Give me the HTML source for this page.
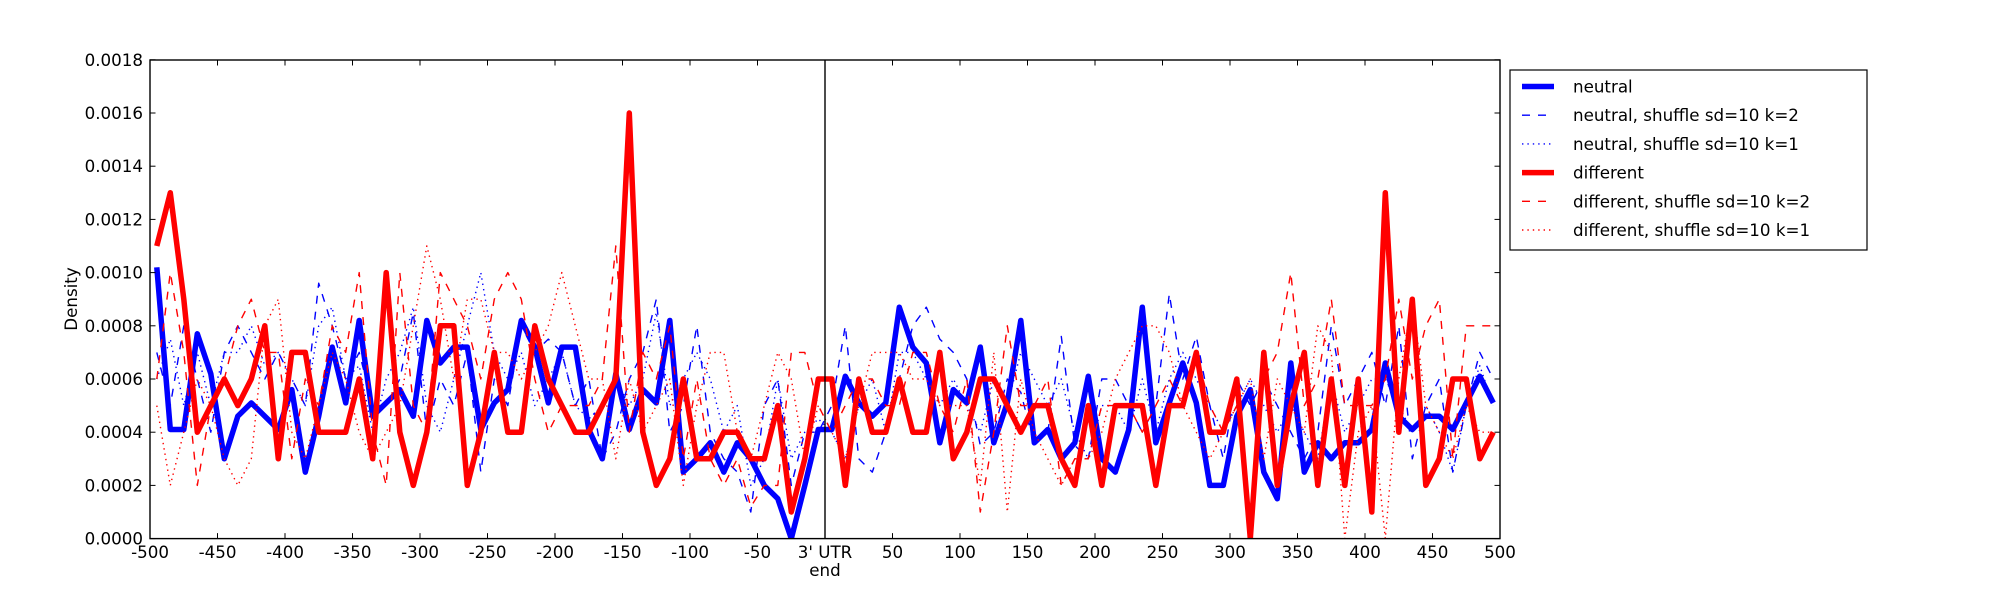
<!DOCTYPE html>
<html><head><meta charset="utf-8"><style>
html,body{margin:0;padding:0;background:#fff;}
svg{display:block;font-family:"DejaVu Sans","Liberation Sans",sans-serif;}
</style></head><body>
<svg id="s" width="2000" height="600" xmlns="http://www.w3.org/2000/svg">
<rect width="2000" height="600" fill="#fff"/>
<g id="plot"></g>
</svg>
<script>
var NS="http://www.w3.org/2000/svg";
var g=document.getElementById("plot");
function el(t,a,txt){var e=document.createElementNS(NS,t);for(var k in a)e.setAttribute(k,a[k]);if(txt!==undefined)e.textContent=txt;g.appendChild(e);return e;}
var L=150,R=1500,T=60,B=538.6;
function X(v){return 825+v*1.35;}
function Y(u){return B-u*26.6;}
var xs=[];for(var i=0;i<100;i++)xs.push(-495+10*i);
var neutral=[10.2,4.1,4.1,7.7,6.2,3.0,4.6,5.1,4.6,4.1,5.6,2.5,4.6,7.2,5.1,8.2,4.6,5.1,5.6,4.6,8.2,6.6,7.2,7.2,4.1,5.1,5.6,8.2,7.2,5.1,7.2,7.2,4.1,3.0,6.2,4.1,5.6,5.1,8.2,2.5,3.0,3.6,2.5,3.6,3.0,2.0,1.5,0,2.0,4.1,
4.1,6.1,5.1,4.6,5.1,8.7,7.2,6.6,3.6,5.6,5.1,7.2,3.6,5.1,8.2,3.6,4.1,3.0,3.6,6.1,3.0,2.5,4.1,8.7,3.6,5.1,6.6,5.1,2.0,2.0,4.6,5.6,2.5,1.5,6.6,2.5,3.6,3.0,3.6,3.6,4.1,6.6,4.6,4.1,4.6,4.6,4.1,5.1,6.1,5.1];
var diff=[11,13,9,4,5,6,5,6,8,3,7,7,4,4,4,6,3,10,4,2,4,8,8,2,4,7,4,4,8,6,5,4,4,5,6,16,4,2,3,6,3,3,4,4,3,3,5,1,3,6,
6,2,6,4,4,6,4,4,7,3,4,6,6,5,4,5,5,3,2,5,2,5,5,5,2,5,5,7,4,4,6,
0,7,2,5,7,2,6,2,6,1,13,4,9,2,3,6,6,3,4];
var n2=[7,5,8,6,4,7,8,7,6,7,6,5,9.6,8,6,7,5,5,6,8.5,4,6,5,7,2.5,6,5,8,7,7.5,7,5,6,3,4,6,7,9,4,5,8,4,3,2.5,1,5,6,2,4,4,
5,8,3,2.5,4,6,8,8.7,7.5,7,6,3.5,4,6,5.5,3.5,4,7.6,3.5,3,6,6,5,4,5,9.2,6,7.6,5,3,6,5,6,5,4,3,4,8,5,6,7,5,8,3,5,6,2.5,5,7,6];
var n1=[6,7.5,5,7,5,7,7,8,6.5,7,6,5,8,8.7,6,6.5,4,6,7,8.7,5,4,6,8,10,7,6,7,5,6,7,5,4.5,5,6,5,6,8.5,5,6,7,6,4,5,2,3,6,3,4,4.5,
4,3,5,6,4,7,7,6,5,6,5,4,6,5,7,6,5,6,4,3,5,5,4,6,4,6,7,6,5,4,5,6,5,4,5,4,3,6,4,5,6,6,5,4,5,4,2.5,5,6.5,5];
var d2=[6,10,7,2,5,6,8,9,7,7,3,6,5,8,7,10,4,2,10,5,4,10,9,8,6,9,10,9,6,4,5,5,5,6,11,4,7,6,8,3,6,3,2,3,1.2,2,2,7,7,5,
4,5,6,6,5,5,7,7,5,4,6,1,4,8,5,5,6,2,3,3,5,5,5,4,5,6,5,7,5,4,5,0,6,7,10,5,6,9,5,5,5,6,9,6,8,9,3,8,8,8];
var d1=[5,2,4,6,5,3,2,3,8,9,4,3,5,7,6,4,3,4,5,8,11,9,6,9,9,7,7,6,7,8,10,8,6,6,3,6,4,5,6,2,5,7,7,4,3,5,7,6,3,5,
4,3,5,7,7,7,6,6,5,5,5,2,7,1,6,4,3,2,3,3,4,6,7,8,8,7,5,4,3,4,5,6,3,6,5,4,8,7,0,4,5,0,6,9,5,4,3,5,4,4];
function pts(a){return a.map(function(u,i){return X(xs[i]).toFixed(1)+","+Y(u).toFixed(1);}).join(" ");}
var defs=el("defs",{});
var cp=document.createElementNS(NS,"clipPath");cp.setAttribute("id","c");
var cr=document.createElementNS(NS,"rect");cr.setAttribute("x",L);cr.setAttribute("y",T);cr.setAttribute("width",R-L);cr.setAttribute("height",B-T);
cp.appendChild(cr);defs.appendChild(cp);
var pg=el("g",{"clip-path":"url(#c)"});
function line(a,c,w,da){var p=document.createElementNS(NS,"polyline");p.setAttribute("points",pts(a));p.setAttribute("fill","none");p.setAttribute("stroke",c);p.setAttribute("stroke-width",w);p.setAttribute("stroke-linejoin","round");if(da)p.setAttribute("stroke-dasharray",da);pg.appendChild(p);}
line(neutral,"#0000ff",5.5);
line(n2,"#0000ff",1.4,"8,8");
line(n1,"#0000ff",1.4,"1.4,4");
line(diff,"#ff0000",5.5);
line(d2,"#ff0000",1.4,"8,8");
line(d1,"#ff0000",1.4,"1.4,4");
el("line",{x1:825,y1:T,x2:825,y2:B,stroke:"#000","stroke-width":1.4});
el("rect",{x:L,y:T,width:R-L,height:B-T,fill:"none",stroke:"#000","stroke-width":1.4});
for(var v=-500;v<=500;v+=50){var x=X(v);
el("line",{x1:x,y1:B,x2:x,y2:B-5.5,stroke:"#000","stroke-width":1});
el("line",{x1:x,y1:T,x2:x,y2:T+5.5,stroke:"#000","stroke-width":1});
if(v===0){el("text",{x:x,y:558,"font-size":"16.7","text-anchor":"middle"},"3' UTR");el("text",{x:x,y:576,"font-size":"16.7","text-anchor":"middle"},"end");}
else el("text",{x:x,y:558,"font-size":"16.7","text-anchor":"middle"},String(v));}
for(var k=0;k<=9;k++){var u=k*2;var y=Y(u);
el("line",{x1:L,y1:y,x2:L+5.5,y2:y,stroke:"#000","stroke-width":1});
el("line",{x1:R,y1:y,x2:R-5.5,y2:y,stroke:"#000","stroke-width":1});
el("text",{x:143,y:y+6,"font-size":"16.7","text-anchor":"end"},(u/10000).toFixed(4));}
el("text",{x:77,y:299,"font-size":"16.7","text-anchor":"middle",transform:"rotate(-90 77 299)"},"Density");
el("rect",{x:1510,y:70,width:357,height:180,fill:"#fff",stroke:"#000","stroke-width":1.2});
var leg=[["neutral","#0000ff",5.5,""],["neutral, shuffle sd=10 k=2","#0000ff",1.4,"8,8"],["neutral, shuffle sd=10 k=1","#0000ff",1.4,"1.4,4"],["different","#ff0000",5.5,""],["different, shuffle sd=10 k=2","#ff0000",1.4,"8,8"],["different, shuffle sd=10 k=1","#ff0000",1.4,"1.4,4"]];
leg.forEach(function(l,i){var y=86.5+i*28.7;var a={x1:1522,y1:y,x2:1554,y2:y,stroke:l[1],"stroke-width":l[2]};if(l[3])a["stroke-dasharray"]=l[3];el("line",a);
el("text",{x:1573,y:y+6,"font-size":"16.7"},l[0]);});
</script>
</body></html>
